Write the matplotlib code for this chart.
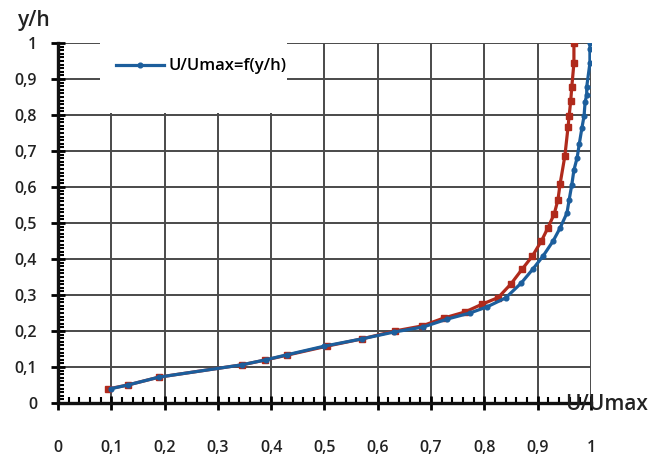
import matplotlib.pyplot as plt
import numpy as np
from matplotlib.ticker import MultipleLocator, FuncFormatter
from matplotlib.patches import Rectangle

# velocity profile U/Umax vs y/h, two series
blue_u = [0.100, 0.131, 0.190, 0.345, 0.390, 0.430, 0.500, 0.570, 0.630, 0.685,
          0.730, 0.773, 0.805, 0.840, 0.869, 0.891, 0.910, 0.929, 0.942, 0.955,
          0.959, 0.964, 0.968, 0.974, 0.978, 0.983, 0.987, 0.989, 0.992, 0.992,
          0.998, 0.998, 0.998]
blue_y = [0.040, 0.050, 0.072, 0.106, 0.120, 0.134, 0.158, 0.178, 0.197, 0.211,
          0.233, 0.250, 0.267, 0.292, 0.333, 0.372, 0.408, 0.450, 0.486, 0.528,
          0.564, 0.606, 0.647, 0.681, 0.719, 0.764, 0.797, 0.836, 0.856, 0.878,
          0.944, 0.983, 1.000]

red_u = [0.094, 0.131, 0.190, 0.345, 0.388, 0.430, 0.505, 0.570, 0.632, 0.683,
         0.724, 0.764, 0.795, 0.826, 0.850, 0.871, 0.890, 0.907, 0.919, 0.931,
         0.938, 0.942, 0.951, 0.957, 0.959, 0.962, 0.964, 0.968, 0.968]
red_y = [0.039, 0.050, 0.072, 0.106, 0.119, 0.133, 0.158, 0.178, 0.200, 0.214,
         0.236, 0.253, 0.274, 0.293, 0.331, 0.372, 0.408, 0.450, 0.486, 0.525,
         0.564, 0.608, 0.686, 0.767, 0.797, 0.839, 0.878, 0.944, 1.000]

blue = '#1c5e9c'
red = '#b02a1c'
font = 'Open Sans'

fig = plt.figure(figsize=(6.57, 4.55), dpi=100)
ax = fig.add_axes([0.0883, 0.1143, 0.8112, 0.7912])

ax.plot(red_u, red_y, '-s', color=red, lw=2.3, markersize=5, zorder=3)
ax.plot(blue_u, blue_y, '-o', color=blue, lw=2.3, markersize=3.4, zorder=4,
        label='U/Umax=f(y/h)')

ax.set_xlim(0, 1)
ax.set_ylim(0, 1)
ax.xaxis.set_major_locator(MultipleLocator(0.1))
ax.xaxis.set_minor_locator(MultipleLocator(0.02))
ax.yaxis.set_major_locator(MultipleLocator(0.1))
ax.yaxis.set_minor_locator(MultipleLocator(0.01))
comma = FuncFormatter(lambda v, p: ('%g' % round(v, 2)).replace('.', ','))
ax.xaxis.set_major_formatter(comma)
ax.yaxis.set_major_formatter(comma)

ax.set_axisbelow(True)
ax.grid(which='major', color='#4a4a4a', lw=1.4)
for s in ['top', 'right']:
    ax.spines[s].set_visible(False)
for s in ['left', 'bottom']:
    ax.spines[s].set_linewidth(2.4)
    ax.spines[s].set_color('#111111')

ax.tick_params(axis='x', which='major', direction='inout', length=10, width=2,
               pad=22, labelsize=11.5)
ax.tick_params(axis='x', which='minor', direction='in', length=4, width=1.5)
ax.tick_params(axis='y', which='major', direction='inout', length=10, width=2,
               pad=10, labelsize=11.5)
ax.tick_params(axis='y', which='minor', direction='in', length=4, width=1.5)
for lab in ax.get_xticklabels() + ax.get_yticklabels():
    lab.set_fontfamily(font)
    lab.set_fontweight('semibold')
    lab.set_color('#222222')

# white patch behind the legend hides the grid there
ax.add_patch(Rectangle((0.079, 0.805), 0.351, 0.21, transform=ax.transAxes,
                       facecolor='white', edgecolor='none', zorder=1,
                       clip_on=False))
leg = ax.legend(loc='center left', bbox_to_anchor=(0.08, 0.935),
                frameon=False, handlelength=2.9, handletextpad=0.3,
                prop={'family': font, 'size': 12, 'weight': 'semibold'})
leg.set_zorder(5)

fig.text(0.028, 0.955, 'y/h', fontsize=15, fontfamily=font,
         fontweight='semibold', color='#222222', va='center')
fig.text(0.86, 0.112, 'U/Umax', fontsize=15, fontfamily=font,
         fontweight='semibold', color='#222222', va='center')

fig.savefig('out.png', dpi=100)
